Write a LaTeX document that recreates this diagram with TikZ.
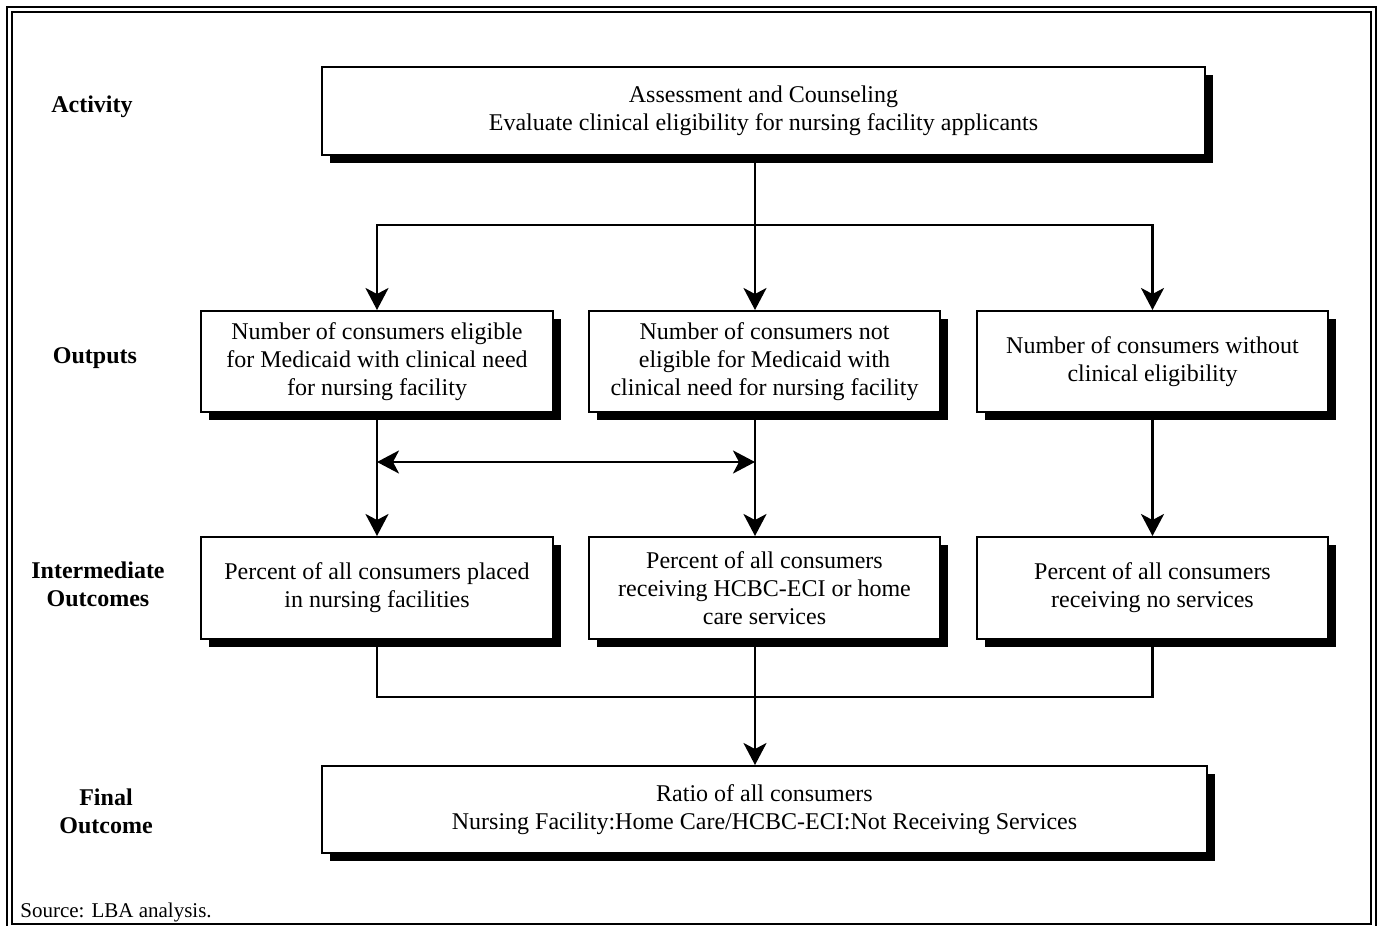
\documentclass[tikz,border=0pt]{standalone}
\usepackage{fontspec}
\setmainfont{Liberation Serif}
\usetikzlibrary{arrows.meta,shadows}
\tikzset{
  box/.style={draw=black, line width=1pt, fill=white, align=center,
    font=\fontsize{12pt}{14pt}\selectfont, inner sep=0pt,
    drop shadow={shadow xshift=4pt, shadow yshift=-4pt, fill=black, opacity=1}},
  lbl/.style={align=center, font=\fontsize{12pt}{14pt}\selectfont\bfseries},
  conn/.style={line width=1.3pt},
  arr/.style={conn, -{Stealth[length=11pt,width=11.5pt,inset=3pt]}},
  darr/.style={conn, {Stealth[length=11pt,width=11.5pt,inset=3pt]}-{Stealth[length=11pt,width=11.5pt,inset=3pt]}},
  frame/.style={line width=1.1pt}
}
\begin{document}
\begin{tikzpicture}[x=0.5pt,y=-0.5pt]
\useasboundingbox (0,0) rectangle (1382,926);
% frame
\draw[frame] (7,7) rectangle (1376,934);
\draw[frame] (12,12) rectangle (1371,924);
% labels
\node[lbl] (lact) at (92,107) {Activity};
\node[lbl] (lout) at (95,358) {Outputs};
\node[lbl] (lint) at (98,584) {Intermediate\\Outcomes};
\node[lbl] (lfin) at (106,811) {Final\\Outcome};
% boxes
\node[box, minimum width=441.5pt, minimum height=44pt] (act) at (763.5,111)
  {Assessment and Counseling\\Evaluate clinical eligibility for nursing facility applicants};
\node[box, minimum width=176pt, minimum height=50.5pt] (o1) at (377,361.5)
  {Number of consumers eligible\\for Medicaid with clinical need\\for nursing facility};
\node[box, minimum width=175.5pt, minimum height=50.5pt] (o2) at (764.5,361.5)
  {Number of consumers not\\eligible for Medicaid with\\clinical need for nursing facility};
\node[box, minimum width=175.5pt, minimum height=50.5pt] (o3) at (1152.5,361.5)
  {Number of consumers without\\clinical eligibility};
\node[box, minimum width=176pt, minimum height=51pt] (i1) at (377,588)
  {Percent of all consumers placed\\in nursing facilities};
\node[box, minimum width=175.5pt, minimum height=51pt] (i2) at (764.5,588)
  {Percent of all consumers\\receiving HCBC-ECI or home\\care services};
\node[box, minimum width=175.5pt, minimum height=51pt] (i3) at (1152.5,588)
  {Percent of all consumers\\receiving no services};
\node[box, minimum width=442.5pt, minimum height=43.5pt] (fin) at (764.5,809.5)
  {Ratio of all consumers\\Nursing Facility:Home Care/HCBC-ECI:Not Receiving Services};
% source
\node[anchor=base west, inner sep=0pt, font=\fontsize{10.5pt}{12pt}\selectfont] (src) at (20,917) {Source: LBA analysis.};
% helper coordinates
\coordinate (mx) at (755,0);
\coordinate (split) at (755,225);
\coordinate (dl) at (377,462);
\coordinate (dr) at (755,462);
\coordinate (jy) at (0,697);
% connectors
\draw[arr] (act.south -| mx) -- (o2.north -| mx);
\draw[arr] (split) -| (o1.north);
\draw[arr] (split) -| (o3.north);
\draw[arr] (o1.south) -- (i1.north);
\draw[arr] (o2.south -| mx) -- (i2.north -| mx);
\draw[arr] (o3.south) -- (i3.north);
\draw[darr] (dl) -- (dr);
\draw[conn] (i1.south) |- (i3.south |- jy) -- (i3.south);
\draw[arr] (i2.south -| mx) -- (fin.north -| mx);
\end{tikzpicture}
\end{document}
